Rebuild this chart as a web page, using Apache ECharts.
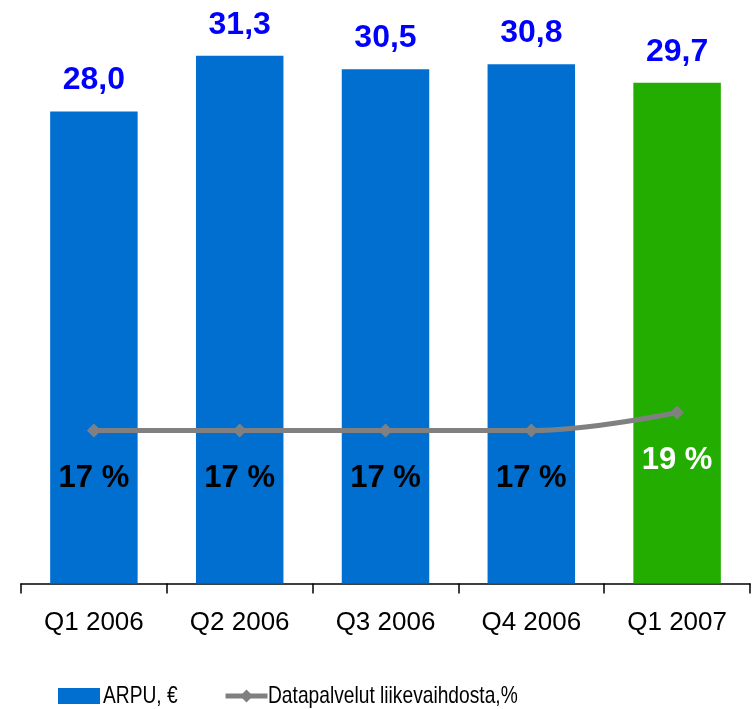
<!DOCTYPE html>
<html>
<head>
<meta charset="utf-8">
<script src="https://cdn.jsdelivr.net/npm/echarts@6/dist/echarts.min.js"></script>
<style>
  html, body { margin: 0; padding: 0; background: #fff; }
  #main { width: 755px; height: 709px; }
</style>
</head>
<body>
<div id="main"></div>
<script>
// data
var categories = ['Q1 2006', 'Q2 2006', 'Q3 2006', 'Q4 2006', 'Q1 2007'];
var arpu = [28.0, 31.3, 30.5, 30.8, 29.7];
var dataShare = [17, 17, 17, 17, 19];
var seriesNames = ['ARPU, €', 'Datapalvelut liikevaihdosta,%'];
var barColors = ['#006FD0', '#006FD0', '#006FD0', '#006FD0', '#22AD00'];
var shareLabelColors = ['#000', '#000', '#000', '#000', '#fff'];

var chart = echarts.init(document.getElementById('main'));

var fmt = function (v) {
  return v.toFixed(1).replace('.', ',');
};

// legend text is narrow in the original, so it is drawn as scaled text next to the legend icons
var legendText = function (name, x) {
  return {
    type: 'text',
    x: x,
    y: 696,
    scaleX: 0.8,
    style: {
      text: name,
      font: '24px "Liberation Sans", Arial, sans-serif',
      fill: '#000',
      textAlign: 'left',
      textVerticalAlign: 'middle'
    }
  };
};

var legendBase = {
  top: 683,
  itemWidth: 42,
  itemHeight: 16,
  formatter: function () { return ''; }
};

var option = {
  backgroundColor: '#ffffff',
  animation: false,
  textStyle: { fontFamily: 'Liberation Sans, Arial, sans-serif' },
  grid: { left: 21, right: 5, top: 20, bottom: 125.5 },
  legend: [
    Object.assign({}, legendBase, { left: 53, data: [{ name: seriesNames[0], icon: 'rect' }] }),
    Object.assign({}, legendBase, {
      left: 218,
      lineStyle: { width: 5, color: '#808080' },
      data: [{ name: seriesNames[1] }]
    })
  ],
  graphic: [
    legendText(seriesNames[0], 103),
    legendText(seriesNames[1], 268)
  ],
  xAxis: {
    type: 'category',
    data: categories,
    axisLine: { lineStyle: { color: '#000', width: 1.5 } },
    axisTick: { show: true, length: 10, lineStyle: { color: '#000', width: 1.5 } },
    axisLabel: { fontSize: 26, color: '#000', margin: 26 }
  },
  yAxis: [
    { type: 'value', min: 0, max: 33.42, show: false, splitLine: { show: false } },
    { type: 'value', min: 0, max: 62.6, show: false, splitLine: { show: false } }
  ],
  series: [
    {
      name: seriesNames[0],
      type: 'bar',
      barCategoryGap: '40%',
      itemStyle: { color: barColors[0] },
      data: arpu.map(function (v, i) {
        return { value: v, itemStyle: { color: barColors[i] } };
      }),
      label: {
        show: true,
        position: 'top',
        distance: 15,
        fontSize: 32,
        fontWeight: 'bold',
        color: '#0000FF',
        formatter: function (p) { return fmt(p.value); }
      }
    },
    {
      name: seriesNames[1],
      type: 'line',
      yAxisIndex: 1,
      smooth: 0.4,
      symbol: 'diamond',
      symbolSize: 14,
      itemStyle: { color: '#808080' },
      lineStyle: { color: '#808080', width: 5 },
      data: dataShare.map(function (v, i) {
        return { value: v, label: { color: shareLabelColors[i] } };
      }),
      label: {
        show: true,
        position: 'bottom',
        distance: 25,
        fontSize: 31,
        fontWeight: 'bold',
        formatter: '{c} %'
      },
      z: 3
    }
  ]
};

chart.setOption(option);
</script>
</body>
</html>
